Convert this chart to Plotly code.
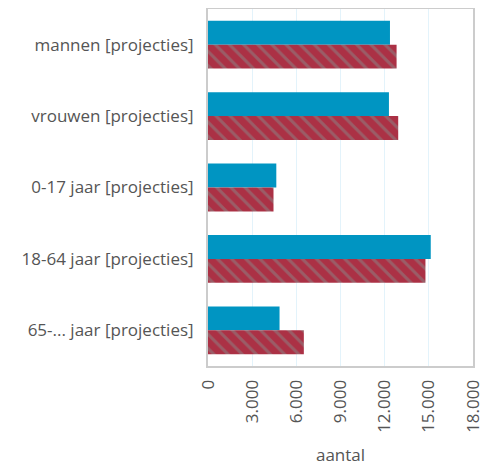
import plotly.graph_objects as go

categories = ["mannen [projecties]", "vrouwen [projecties]", "0-17 jaar [projecties]",
              "18-64 jaar [projecties]", "65-... jaar [projecties]"]
series_blue = [12360, 12290, 4640, 15130, 4860]
series_red = [12810, 12920, 4450, 14770, 6510]
tick_vals = [0, 3000, 6000, 9000, 12000, 15000, 18000]

fig = go.Figure()
fig.add_trace(go.Bar(y=categories, x=series_blue, orientation="h",
                     marker=dict(color="#0095c2", line=dict(width=0)), name="a"))
fig.add_trace(go.Bar(y=categories, x=series_red, orientation="h",
                     marker=dict(color="#ab3145", line=dict(width=0),
                                 pattern=dict(shape="\\", fgcolor="#8a8a8a", size=10, solidity=0.3)),
                     name="b"))

fig.update_layout(
    width=481, height=458,
    margin=dict(l=200, r=16, t=1, b=100, autoexpand=False),
    barmode="group", bargap=0.33, bargroupgap=0,
    showlegend=False,
    plot_bgcolor="white", paper_bgcolor="white",
    separators=",.",
    font=dict(family="Open Sans", size=17, color="#555555"),
)
fig.update_xaxes(range=[0, 18000], tickvals=tick_vals, tickformat=",d", tickangle=-90,
                 showgrid=True, gridcolor="#e3f3fb", gridwidth=1,
                 showline=True, linecolor="#cccccc", linewidth=2, mirror=True,
                 zeroline=False, ticks="", ticklen=0, automargin=False, ticklabelstandoff=5,
                 title=dict(text="aantal", font=dict(size=17, color="#555555"), standoff=20),
                 tickfont=dict(size=17, color="#555555"))
fig.update_yaxes(autorange="reversed", showline=True, linecolor="#cccccc", linewidth=2, mirror=True,
                 showgrid=False, ticks="", automargin=False,
                 tickfont=dict(size=17, color="#555555"), ticklabelstandoff=9)

fig.write_html("out.html")
